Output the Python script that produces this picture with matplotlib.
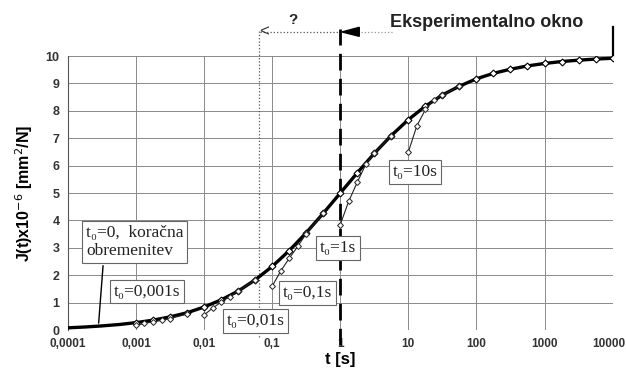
import matplotlib
matplotlib.use("Agg")
import matplotlib.pyplot as plt
import matplotlib.transforms as mtransforms
import numpy as np

plt.rcParams["font.family"] = ["Liberation Sans", "DejaVu Sans"]

# main curve J(t) (t0 = 0, step loading)
t_main = [1e-4, 1.78e-4, 3.16e-4, 5.62e-4, 1e-3, 1.78e-3, 3.16e-3, 5.62e-3, 1e-2, 1.78e-2,
          3.16e-2, 5.62e-2, 1e-1, 1.78e-1, 3.16e-1, 5.62e-1, 1, 1.78, 3.16, 5.62, 10, 17.8,
          31.6, 56.2, 100, 178, 316, 562, 1000, 1780, 3160, 5620, 10000]
J_main = [0.08, 0.11, 0.15, 0.20, 0.27, 0.36, 0.48, 0.63, 0.84, 1.10, 1.42, 1.83, 2.32,
          2.90, 3.55, 4.26, 5.00, 5.74, 6.45, 7.10, 7.68, 8.17, 8.58, 8.90, 9.17, 9.37,
          9.52, 9.64, 9.73, 9.80, 9.85, 9.89, 9.92]

# delayed-start curves (t0 = 0.001, 0.01, 0.1, 1, 10 s)
t_0001 = [1e-3, 1.33e-3, 1.78e-3, 2.37e-3, 3.16e-3, 5.62e-3]
J_0001 = [0.17, 0.24, 0.30, 0.35, 0.42, 0.58]
t_001 = [1e-2, 1.33e-2, 1.78e-2, 2.37e-2, 3.16e-2, 5.62e-2]
J_001 = [0.55, 0.80, 1.02, 1.22, 1.42, 1.83]
t_01 = [1e-1, 1.33e-1, 1.78e-1, 2.37e-1, 3.16e-1, 5.62e-1]
J_01 = [1.60, 2.15, 2.62, 3.05, 3.52, 4.26]
t_1 = [1, 1.33, 1.78, 2.37, 3.16, 5.62]
J_1 = [3.85, 4.70, 5.40, 6.05, 6.45, 7.10]
t_10 = [10, 13.3, 17.8, 23.7, 31.6, 56.2]
J_10 = [6.50, 7.45, 8.05, 8.40, 8.58, 8.90]

x_ticks = [1e-4, 1e-3, 1e-2, 1e-1, 1, 10, 100, 1000, 10000]
x_labels = ["0,0001", "0,001", "0,01", "0,1", "1", "10", "100", "1000", "10000"]
y_ticks = list(range(0, 11))

label_texts = ["t₀=0,  koračna\nobremenitev", "t₀=0,001s", "t₀=0,01s", "t₀=0,1s", "t₀=1s", "t₀=10s"]
label_pos = [(1.85e-4, 3.22), (4.7e-4, 1.40), (2.15e-2, 0.33), (0.145, 1.36), (0.5, 3.0), (5.9, 5.77)]

fig = plt.figure(figsize=(6.26, 3.84), dpi=100)
ax = fig.add_axes([0.1086, 0.1406, 0.8700, 0.7134])
ax.set_xscale("log")
ax.set_xlim(1e-4, 1e4)
ax.set_ylim(0, 10)
for s in ax.spines.values():
    s.set_visible(False)
ax.spines["left"].set_visible(True)
ax.spines["left"].set_color("#555555")
ax.grid(True, which="major", color="#8a8a8a", lw=0.7)
ax.minorticks_off()
ax.tick_params(length=0, pad=6)
ax.set_xticks(x_ticks)
ax.set_xticklabels(x_labels, fontsize=8.5, fontweight="bold", color="#333333")
last = ax.get_xticklabels()[-1]
last.set_transform(last.get_transform() +
                   mtransforms.ScaledTranslation(-4 / 100, 0, fig.dpi_scale_trans))
ax.set_yticks(y_ticks)
ax.set_yticklabels([str(v) for v in y_ticks], fontsize=9, fontweight="bold", color="#333333")
ax.set_xlabel("t [s]", fontsize=12, fontweight="bold", labelpad=1)
ax.set_ylabel("J(t)x10$^{-6}$ [mm$^2$/N]", fontsize=11.5, fontweight="bold", labelpad=8)

# main curve
ax.plot(t_main, J_main, color="black", lw=2.4, zorder=4)
ax.plot([t for t in t_main if t >= 1e-3], [j for t, j in zip(t_main, J_main) if t >= 1e-3],
        ls="none", marker="D", ms=3.5, mfc="white", mec="black", mew=0.8, zorder=5)
for tt, jj in [(t_0001, J_0001), (t_001, J_001), (t_01, J_01), (t_1, J_1), (t_10, J_10)]:
    ax.plot(tt, jj, color="#222222", lw=0.8, marker="D", ms=3, mfc="white", mec="#222222",
            mew=0.7, zorder=5)

# labels
serif = ["Liberation Serif", "DejaVu Serif"]
for txt, (xx, yy) in zip(label_texts, label_pos):
    ax.text(xx, yy, txt, ha="left", va="center", fontsize=12.5, family=serif, zorder=6,
            color="#222222",
            bbox=dict(boxstyle="square,pad=0.22", fc="white", ec="#666666", lw=0.8),
            linespacing=1.15)
ax.annotate("", xy=(2.8e-4, 0.15), xytext=(3.3e-4, 2.45),
            arrowprops=dict(arrowstyle="-", color="black", lw=1.0), zorder=6)

# experimental window markers
ax.plot([1, 1], [-0.55, 11.0], color="black", lw=2.0, ls=(0, (6, 3)), clip_on=False, zorder=3)
ax.fill([1.06, 1.9, 1.9], [10.88, 11.05, 10.72], color="black", clip_on=False, zorder=6)
ax.plot([1e4, 1e4], [10.0, 11.05], color="black", lw=1.6, clip_on=False)
ax.text(142, 11.22, "Eksperimentalno okno", ha="center", va="center", fontsize=13,
        fontweight="bold", color="#222222")
ax.plot([2.0, 6.0], [10.88, 10.88], color="#999999", lw=0.9, ls=":", clip_on=False)

# unknown region
ax.plot([0.064, 0.064], [-0.25, 10.95], color="#555555", lw=0.9, ls=":", clip_on=False, zorder=3)
ax.plot([0.066, 0.97], [10.88, 10.88], color="#555555", lw=0.9, ls=":", clip_on=False)
ax.text(0.064, 10.88, "<", ha="left", va="center", fontsize=12, color="#333333")
ax.text(0.2, 11.3, "?", ha="center", va="center", fontsize=11, fontweight="bold", color="#222222")

fig.savefig("out.png", dpi=100)
